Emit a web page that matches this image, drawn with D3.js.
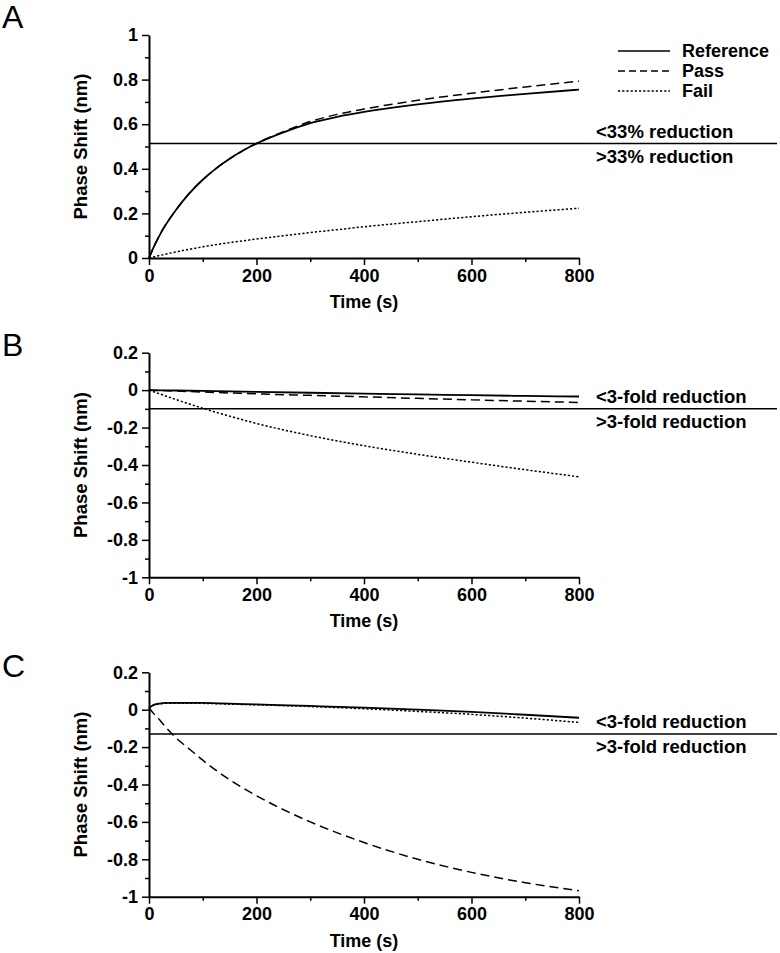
<!DOCTYPE html>
<html>
<head>
<meta charset="utf-8">
<script src="https://cdn.jsdelivr.net/npm/d3@7"></script>
<style>
  html, body { margin: 0; padding: 0; background: #fff; }
  svg { display: block; }
  text { font-family: "Liberation Sans", Arial, Helvetica, sans-serif; fill: #000; }
</style>
</head>
<body>
<svg id="chart" width="780" height="953"></svg>
<script>
// ---------------- DATA ----------------
const seriesNames = ["Reference", "Pass", "Fail"];
const xTicks = [0, 200, 400, 600, 800];
const xMinorTicks = [100, 300, 500, 700];
const yTicksA = [0, 0.2, 0.4, 0.6, 0.8, 1];
const yTicksBC = [-1, -0.8, -0.6, -0.4, -0.2, 0, 0.2];

// Panel A
const timeA = [0, 10, 25, 50, 75, 100, 125, 150, 175, 200, 250, 300, 350, 400, 500, 600, 700, 800];
const refA  = [0, 0.055, 0.125, 0.215, 0.29, 0.351, 0.402, 0.445, 0.482, 0.513, 0.563, 0.605, 0.633, 0.655, 0.689, 0.715, 0.736, 0.755];
const passA = [0, 0.055, 0.125, 0.215, 0.29, 0.351, 0.402, 0.445, 0.482, 0.514, 0.566, 0.612, 0.644, 0.668, 0.707, 0.739, 0.767, 0.793];
const failA = [0, 0.006, 0.014, 0.027, 0.039, 0.05, 0.06, 0.069, 0.077, 0.085, 0.1, 0.114, 0.127, 0.14, 0.163, 0.185, 0.205, 0.223];
const thresholdA = 0.513;
const labelsA = ["<33% reduction", ">33% reduction"];

// Panel B
const timeB = [0, 50, 100, 150, 200, 300, 400, 500, 600, 700, 800];
const refB  = [0, -0.002, -0.004, -0.007, -0.009, -0.014, -0.019, -0.023, -0.027, -0.031, -0.034];
const passB = [0, -0.005, -0.01, -0.015, -0.02, -0.028, -0.036, -0.044, -0.052, -0.059, -0.066];
const failB = [0, -0.05, -0.097, -0.139, -0.178, -0.243, -0.297, -0.343, -0.385, -0.425, -0.463];
const thresholdB = -0.1;
const labelsB = ["<3-fold reduction", ">3-fold reduction"];

// Panel C
const timeC = [0, 5, 10, 20, 30, 50, 75, 100, 150, 200, 300, 400, 500, 600, 700, 800];
const refC  = [0.01, 0.02, 0.027, 0.033, 0.036, 0.037, 0.037, 0.036, 0.032, 0.028, 0.02, 0.011, 0, -0.012, -0.027, -0.043];
const passC = [0.01, -0.008, -0.025, -0.055, -0.09, -0.15, -0.21, -0.27, -0.375, -0.46, -0.6, -0.71, -0.8, -0.87, -0.925, -0.968];
const failC = [0.01, 0.019, 0.025, 0.031, 0.034, 0.035, 0.035, 0.034, 0.03, 0.026, 0.017, 0.005, -0.009, -0.025, -0.045, -0.068];
const thresholdC = -0.13;
const labelsC = ["<3-fold reduction", ">3-fold reduction"];

const xLabel = "Time (s)";
const yLabel = "Phase Shift (nm)";

// ---------------- DRAW ----------------
const svg = d3.select("#chart");
const dashes = { Reference: null, Pass: "9,5", Fail: "2.2,2" };
const fmt = d => String(+(+d).toFixed(1));

const panels = [
  { letter: "A", letterY: 28, time: timeA, series: [refA, passA, failA], yDomain: [0, 1], yTicks: yTicksA,
    top: 35, bottom: 258, threshold: thresholdA, labels: labelsA, legend: true },
  { letter: "B", letterY: 356, time: timeB, series: [refB, passB, failB], yDomain: [-1, 0.2], yTicks: yTicksBC,
    top: 352.7, bottom: 577.3, threshold: thresholdB, labels: labelsB, legend: false },
  { letter: "C", letterY: 677, time: timeC, series: [refC, passC, failC], yDomain: [-1, 0.2], yTicks: yTicksBC,
    top: 672.3, bottom: 896.7, threshold: thresholdC, labels: labelsC, legend: false }
];

const x = d3.scaleLinear().domain([0, 800]).range([149, 579]);

panels.forEach(p => {
  const g = svg.append("g");
  const y = d3.scaleLinear().domain(p.yDomain).range([p.bottom, p.top]);
  const step = 0.1;
  const yMinor = d3.range(Math.round(p.yDomain[0] / step), Math.round(p.yDomain[1] / step) + 1)
    .map(i => +(i * step).toFixed(2))
    .filter(v => !p.yTicks.some(t => Math.abs(t - v) < 1e-9));

  // panel letter
  g.append("text").attr("x", 2).attr("y", p.letterY)
    .style("font-size", "32px")
    .text(p.letter);

  // y axis
  g.append("g").attr("transform", `translate(${x(0)},0)`)
    .call(d3.axisLeft(y).tickValues(p.yTicks).tickSize(7).tickSizeOuter(0).tickPadding(4).tickFormat(fmt));
  g.append("g").attr("transform", `translate(${x(0)},0)`)
    .call(d3.axisLeft(y).tickValues(yMinor).tickSize(4).tickSizeOuter(0).tickFormat(""))
    .call(s => s.select(".domain").remove());

  // x axis
  g.append("g").attr("transform", `translate(0,${p.bottom})`)
    .call(d3.axisBottom(x).tickValues(xTicks).tickSize(7).tickSizeOuter(0).tickPadding(4).tickFormat(d3.format("d")));
  g.append("g").attr("transform", `translate(0,${p.bottom})`)
    .call(d3.axisBottom(x).tickValues(xMinorTicks).tickSize(4).tickSizeOuter(0).tickFormat(""))
    .call(s => s.select(".domain").remove());

  g.selectAll(".domain").attr("stroke", "#000").attr("stroke-width", 2);
  g.selectAll(".tick line").attr("stroke", "#000").attr("stroke-width", 1.5);
  g.selectAll(".tick text").style("font-size", "18px").style("font-weight", "bold").attr("fill", "#000");

  // axis titles
  g.append("text").attr("x", (x(0) + x(800)) / 2).attr("y", p.bottom + 50)
    .attr("text-anchor", "middle").style("font-size", "18px").style("font-weight", "bold").text(xLabel);
  g.append("text").attr("transform", `translate(87,${(p.top + p.bottom) / 2}) rotate(-90)`)
    .attr("text-anchor", "middle").style("font-size", "18.5px").style("font-weight", "bold").text(yLabel);

  // threshold line
  const ty = y(p.threshold);
  g.append("line").attr("x1", x(0)).attr("x2", 777).attr("y1", ty).attr("y2", ty)
    .attr("stroke", "#000").attr("stroke-width", 1.5);
  g.append("text").attr("x", 596).attr("y", ty - 6).style("font-size", "18.5px").style("font-weight", "bold").text(p.labels[0]);
  g.append("text").attr("x", 596).attr("y", ty + 19).style("font-size", "18.5px").style("font-weight", "bold").text(p.labels[1]);

  // curves
  const line = d3.line().x(d => x(d[0])).y(d => y(d[1])).curve(d3.curveMonotoneX);
  p.series.forEach((vals, i) => {
    const name = seriesNames[i];
    g.append("path").datum(p.time.map((t, k) => [t, vals[k]]))
      .attr("d", line).attr("fill", "none").attr("stroke", "#000")
      .attr("stroke-width", name === "Reference" ? 1.8 : 1.5)
      .attr("stroke-dasharray", dashes[name]);
  });

  // legend
  if (p.legend) {
    const legY = [51, 71, 91];
    seriesNames.forEach((name, i) => {
      g.append("line").attr("x1", 618).attr("x2", 670).attr("y1", legY[i]).attr("y2", legY[i])
        .attr("stroke", "#000").attr("stroke-width", 1.5)
        .attr("stroke-dasharray", name === "Pass" ? "7,4" : dashes[name]);
      g.append("text").attr("x", 682).attr("y", legY[i] + 6)
        .style("font-size", "18px").style("font-weight", "bold").text(name);
    });
  }
});
</script>
</body>
</html>
